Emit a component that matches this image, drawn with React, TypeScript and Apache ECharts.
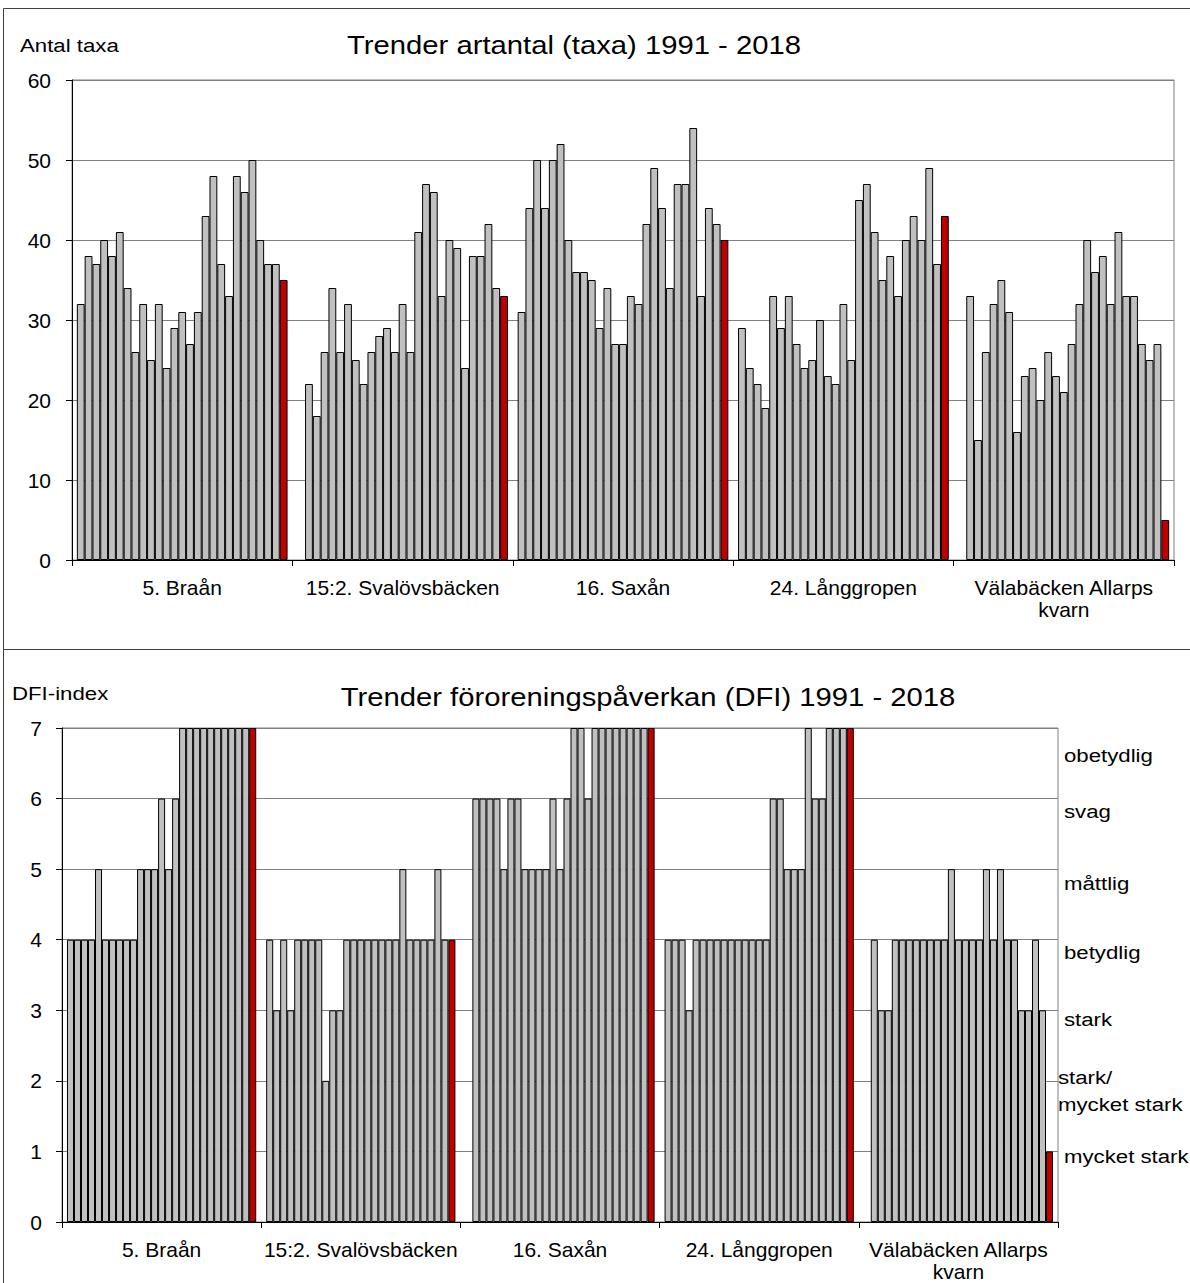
import React, { useEffect, useRef } from 'react';
import * as echarts from 'echarts';

const sites = ['5. Braån', '15:2. Svalövsbäcken', '16. Saxån', '24. Långgropen', 'Välabäcken Allarps\nkvarn'];

// Antal taxa per site (27 yearly values each, null = missing year, last = 2018)
const taxaBraan = [32, 38, 37, 40, 38, 41, 34, 26, 32, 25, 32, 24, 29, 31, 27, 31, 43, 48, 37, 33, 48, 46, 50, 40, 37, 37, 35];
const taxaSvalov = [null, 22, 18, 26, 34, 26, 32, 25, 22, 26, 28, 29, 26, 32, 26, 41, 47, 46, 33, 40, 39, 24, 38, 38, 42, 34, 33];
const taxaSaxan = [31, 44, 50, 44, 50, 52, 40, 36, 36, 35, 29, 34, 27, 27, 33, 32, 42, 49, 44, 34, 47, 47, 54, 33, 44, 42, 40];
const taxaLanggropen = [29, 24, 22, 19, 33, 29, 33, 27, 24, 25, 30, 23, 22, 32, 25, 45, 47, 41, 35, 38, 33, 40, 43, 40, 49, 37, 43];
const taxaValabacken = [null, 33, 15, 26, 32, 35, 31, 16, 23, 24, 20, 26, 23, 21, 27, 32, 40, 36, 38, 32, 41, 33, 33, 27, 25, 27, 5];

// DFI-index per site
const dfiBraan = [4, 4, 4, 4, 5, 4, 4, 4, 4, 4, 5, 5, 5, 6, 5, 6, 7, 7, 7, 7, 7, 7, 7, 7, 7, 7, 7];
const dfiSvalov = [4, 3, 4, 3, 4, 4, 4, 4, 2, 3, 3, 4, 4, 4, 4, 4, 4, 4, 4, 5, 4, 4, 4, 4, 5, 4, 4];
const dfiSaxan = [null, 6, 6, 6, 6, 5, 6, 6, 5, 5, 5, 5, 6, 5, 6, 7, 7, 6, 7, 7, 7, 7, 7, 7, 7, 7, 7];
const dfiLanggropen = [4, 4, 4, 3, 4, 4, 4, 4, 4, 4, 4, 4, 4, 4, 4, 6, 6, 5, 5, 5, 7, 6, 6, 7, 7, 7, 7];
const dfiValabacken = [null, 4, 3, 3, 4, 4, 4, 4, 4, 4, 4, 4, 5, 4, 4, 4, 4, 5, 4, 5, 4, 4, 3, 3, 4, 3, 1];

const dfiLevels = ['obetydlig', 'svag', 'måttlig', 'betydlig', 'stark', 'stark/\nmycket stark', 'mycket stark'];

const taxaTitle = 'Trender artantal (taxa) 1991 - 2018';
const dfiTitle = 'Trender föroreningspåverkan (DFI) 1991 - 2018';

const FONT = '"Liberation Sans", Arial, sans-serif';
const GREY = '#C0C0C0';
const RED = '#C00000';
const STRETCH = 1.17;

export default function App() {
  const ref = useRef<HTMLDivElement>(null);

  useEffect(() => {
    if (!ref.current) return;
    const chart = echarts.init(ref.current, undefined, { renderer: 'svg' });

    const taxaSets = [taxaBraan, taxaSvalov, taxaSaxan, taxaLanggropen, taxaValabacken];
    const dfiSets = [dfiBraan, dfiSvalov, dfiSaxan, dfiLanggropen, dfiValabacken];
    const nYears = taxaBraan.length;

    const series: any[] = [];
    for (let i = 0; i < nYears; i++) {
      const last = i === nYears - 1;
      series.push({
        type: 'bar',
        name: 'taxa' + i,
        xAxisIndex: 0,
        yAxisIndex: 0,
        barGap: '0%',
        barCategoryGap: '4.4%',
        data: taxaSets.map((s) => s[i]),
        itemStyle: { color: last ? RED : GREY, borderColor: '#000', borderWidth: 1 },
      });
      series.push({
        type: 'bar',
        name: 'dfi' + i,
        xAxisIndex: 1,
        yAxisIndex: 1,
        barGap: '0%',
        barCategoryGap: '5%',
        data: dfiSets.map((s) => s[i]),
        itemStyle: { color: last ? RED : GREY, borderColor: '#000', borderWidth: 1 },
      });
    }

    const axisLine = { show: true, lineStyle: { color: '#000', width: 1 } };
    const axisTick = { show: true, inside: false, length: 6, lineStyle: { color: '#000', width: 1 } };

    const levelY = [755, 811, 883, 952, 1019, 1091, 1156];

    const txt = (x: number, y: number, text: string, size: number, align: string, extra: any = {}) => ({
      type: 'text',
      x,
      y,
      scaleX: STRETCH,
      style: { text, font: `${size}px ${FONT}`, fill: '#000', textAlign: align, textVerticalAlign: 'middle', ...extra },
    });

    const graphic: any[] = [
      { type: 'rect', shape: { x: 3.5, y: 8.5, width: 1200, height: 641 }, style: { fill: 'none', stroke: '#404040', lineWidth: 1 }, silent: true },
      { type: 'rect', shape: { x: 3.5, y: 649.5, width: 1200, height: 700 }, style: { fill: 'none', stroke: '#404040', lineWidth: 1 }, silent: true },
      txt(20, 45, 'Antal taxa', 19, 'left'),
      txt(574, 45, taxaTitle, 25, 'center'),
      txt(12, 693, 'DFI-index', 19, 'left'),
      txt(648, 697, dfiTitle, 25, 'center'),
    ];
    dfiLevels.forEach((lab, k) => {
      graphic.push(txt(k === 5 ? 1058 : 1064, levelY[k], lab, 19, 'left', { lineHeight: 27 }));
    });

    const xLabel = { interval: 0, margin: 16, fontSize: 21, lineHeight: 22, color: '#000', fontFamily: FONT };
    const yLabel = { margin: 21, fontSize: 21, color: '#000', fontFamily: FONT };

    chart.setOption({
      animation: false,
      backgroundColor: '#fff',
      textStyle: { fontFamily: FONT },
      grid: [
        { left: 72, top: 80, width: 1102, height: 480, show: true, borderColor: '#808080', borderWidth: 1, backgroundColor: 'transparent' },
        { left: 62, top: 728, width: 996, height: 494, show: true, borderColor: '#808080', borderWidth: 1, backgroundColor: 'transparent' },
      ],
      xAxis: [
        { type: 'category', gridIndex: 0, data: sites, axisLine, axisTick: { ...axisTick, alignWithLabel: false }, axisLabel: xLabel },
        { type: 'category', gridIndex: 1, data: sites, axisLine, axisTick: { ...axisTick, alignWithLabel: false }, axisLabel: xLabel },
      ],
      yAxis: [
        {
          type: 'value', gridIndex: 0, min: 0, max: 60, interval: 10, axisLine, axisTick,
          splitLine: { show: true, lineStyle: { color: '#808080', width: 1 } },
          axisLabel: yLabel,
        },
        {
          type: 'value', gridIndex: 1, min: 0, max: 7, interval: 1, axisLine, axisTick,
          splitLine: { show: true, lineStyle: { color: '#808080', width: 1 } },
          axisLabel: { ...yLabel, margin: 20 },
        },
      ],
      series,
      graphic,
    });

    return () => chart.dispose();
  }, []);

  return (
    <div style={{ position: 'absolute', left: 0, top: 0, width: 1190, height: 1283, background: '#fff' }}>
      <div ref={ref} style={{ width: 1190, height: 1283 }} />
    </div>
  );
}
